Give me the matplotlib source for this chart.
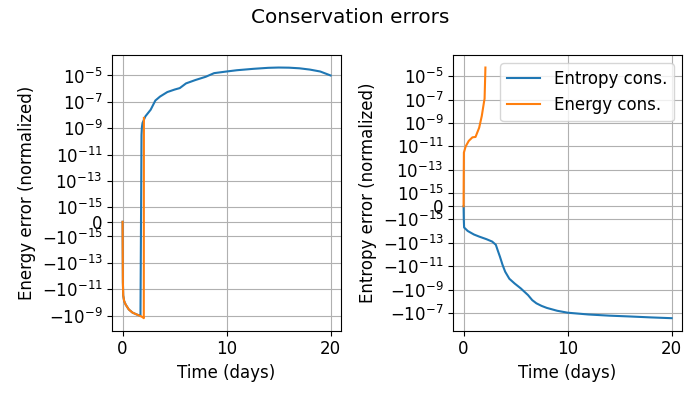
import matplotlib
matplotlib.use("Agg")
import matplotlib.pyplot as plt

plt.rcParams['font.size'] = 12

# Energy error (left panel)
t_energy_entropy = [0, 0.03, 0.06, 0.15, 0.3, 0.6, 0.95, 1.3, 1.6, 1.72, 1.82, 1.86, 1.92,
                    2.2, 2.7, 3.15, 3.6, 4.3, 5.0, 5.5, 6.1, 7.0, 8.0, 8.8, 10.0, 11.0,
                    12.6, 14.0, 15.0, 16.0, 17.0, 18.0, 19.0, 20.0]
e_energy_entropy = [0, -3e-12, -3e-11, -8e-11, -1.5e-10, -3.5e-10, -6e-10, -8e-10, -1.0e-9,
                    -1.05e-9, 3e-10, 1.2e-9, 2.5e-9,
                    8e-9, 2.5e-8, 1.25e-7, 2.5e-7, 5.5e-7, 8.5e-7, 1.1e-6, 2.5e-6, 4.5e-6,
                    8e-6, 1.5e-5, 2.0e-5, 2.5e-5, 3.2e-5, 3.8e-5, 4.0e-5, 3.9e-5, 3.5e-5,
                    2.8e-5, 2.0e-5, 1.0e-5]

t_energy_energy = [0, 0.03, 0.06, 0.15, 0.3, 0.6, 0.95, 1.3, 1.6, 1.9, 2.0, 2.04, 2.05]
e_energy_energy = [0, -3e-12, -3e-11, -8e-11, -1.5e-10, -3.5e-10, -6e-10, -8e-10, -1.0e-9,
                   -1.3e-9, -1.5e-9, -1.6e-9, 6e-9]

# Entropy error (right panel)
t_entropy_entropy = [0, 0.02, 0.05, 0.4, 1.0, 1.5, 2.2, 2.75, 3.1, 3.3, 3.5, 3.75, 4.0,
                     4.4, 4.9, 5.5, 6.2, 6.6, 7.0, 7.5, 8.0, 9.0, 10.0, 12.0, 14.0, 16.0,
                     18.0, 20.0]
s_entropy_entropy = [0, -1e-15, -5e-15, -1e-14, -2e-14, -3e-14, -5e-14, -8e-14, -1.5e-13,
                     -5e-13, -1.6e-12, -8e-12, -3e-11, -1.2e-10, -3e-10, -8e-10, -3e-9,
                     -8e-9, -1.5e-8, -2.5e-8, -3.7e-8, -6.5e-8, -9.5e-8, -1.35e-7,
                     -1.7e-7, -2.0e-7, -2.4e-7, -2.8e-7]

t_entropy_energy = [0, 0.01, 0.03, 0.2, 0.5, 0.85, 1.15, 1.5, 1.75, 1.96, 2.02, 2.1]
s_entropy_energy = [0, 1e-14, 3e-12, 1e-11, 3e-11, 6e-11, 6.5e-11, 4e-10, 4e-9, 6e-8,
                    1.2e-7, 5.5e-5]

labels = ['Entropy cons.', 'Energy cons.']

fig, (ax1, ax2) = plt.subplots(1, 2, figsize=(7, 4), dpi=100)
fig.suptitle('Conservation errors')

ax1.plot(t_energy_entropy, e_energy_entropy, label=labels[0])
ax1.plot(t_energy_energy, e_energy_energy, label=labels[1])
ax1.set_yscale('symlog', linthresh=1e-15)
ax1.set_xlabel('Time (days)')
ax1.set_ylabel('Energy error (normalized)')
ax1.grid(True)

ax2.plot(t_entropy_entropy, s_entropy_entropy, label=labels[0])
ax2.plot(t_entropy_energy, s_entropy_energy, label=labels[1])
ax2.set_yscale('symlog', linthresh=1e-15)
ax2.set_xlabel('Time (days)')
ax2.set_ylabel('Entropy error (normalized)')
ax2.grid(True)
ax2.legend(loc='upper right')

fig.tight_layout()
fig.savefig('out.png')
